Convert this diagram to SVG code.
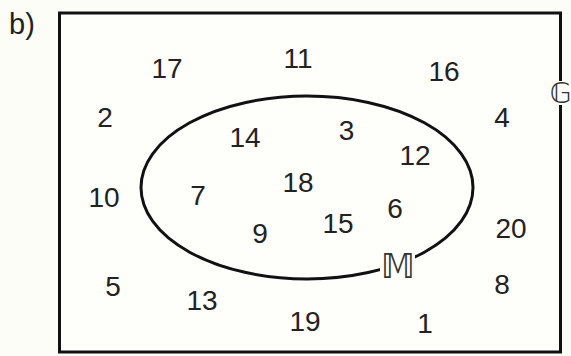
<svg xmlns="http://www.w3.org/2000/svg" width="571" height="356" viewBox="0 0 571 356">
<style>
text{font-family:"Liberation Sans",Arial,sans-serif;fill:#222;}
.n{font-size:28px;text-anchor:middle;}
.s{font-family:"DejaVu Sans",sans-serif;text-anchor:middle;fill:#333;}
</style>
<rect width="571" height="356" fill="#fdfdf8"/>
<text x="9" y="34" style="font-size:29px">b)</text>
<g id="connectors">
<rect id="setG" x="59.5" y="13" width="501" height="339" fill="#fefefb" stroke="#111" stroke-width="3"/>
<ellipse id="setM" cx="307" cy="187.5" rx="166" ry="91.5" fill="none" stroke="#111" stroke-width="3"/>
</g>
<rect x="552" y="81" width="19" height="24" fill="#fdfdf8"/>
<rect x="380" y="252" width="35" height="28" fill="#fefefb"/>
<g id="labelG"><text class="s" x="560.5" y="103" style="font-size:28px">𝔾</text></g>
<g id="labelM"><text class="s" x="398" y="278" style="font-size:33px">𝕄</text></g>
<g id="n17"><text class="n" x="167" y="78">17</text></g>
<g id="n11"><text class="n" x="298" y="68">11</text></g>
<g id="n16"><text class="n" x="444" y="81">16</text></g>
<g id="n2"><text class="n" x="105" y="127">2</text></g>
<g id="n14"><text class="n" x="245" y="147">14</text></g>
<g id="n3"><text class="n" x="346.5" y="140">3</text></g>
<g id="n12"><text class="n" x="415" y="165">12</text></g>
<g id="n4"><text class="n" x="502" y="127">4</text></g>
<g id="n10"><text class="n" x="104" y="207">10</text></g>
<g id="n7"><text class="n" x="198" y="205">7</text></g>
<g id="n18"><text class="n" x="298" y="192">18</text></g>
<g id="n6"><text class="n" x="395" y="218">6</text></g>
<g id="n20"><text class="n" x="511" y="238">20</text></g>
<g id="n9"><text class="n" x="260" y="243">9</text></g>
<g id="n15"><text class="n" x="338" y="233">15</text></g>
<g id="n5"><text class="n" x="113" y="296">5</text></g>
<g id="n13"><text class="n" x="202" y="310">13</text></g>
<g id="n8"><text class="n" x="502" y="294">8</text></g>
<g id="n19"><text class="n" x="305" y="331">19</text></g>
<g id="n1"><text class="n" x="425" y="333">1</text></g>
</svg>
